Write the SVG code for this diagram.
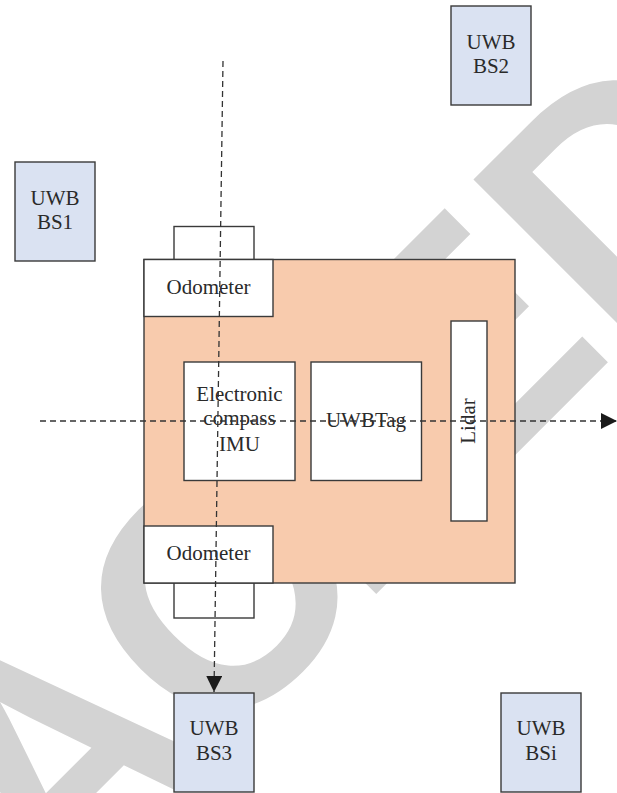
<svg xmlns="http://www.w3.org/2000/svg" width="617" height="793" viewBox="0 0 617 793">
<style>
.wm{font-family:"Liberation Sans",Arial,sans-serif;font-weight:bold;font-size:326px;fill:#d3d3d3}
.box{fill:#fff;stroke:#3a3a3a;stroke-width:1.4}
.bs{fill:#dae2f2;stroke:#3a3a3a;stroke-width:1.4}
.body{fill:#f8cbad;stroke:#3a3a3a;stroke-width:1.4}
.t{font-family:"Liberation Serif","Times New Roman",serif;font-size:21px;fill:#2a2a2a;text-anchor:middle}
.dash{fill:none;stroke:#333;stroke-width:1.3;stroke-dasharray:6,4}
</style>
<defs>
<marker id="arr" viewBox="0 0 16 16" refX="16" refY="8" markerWidth="16" markerHeight="16" markerUnits="userSpaceOnUse" orient="auto">
<path d="M0,0 L16,8 L0,16 z" fill="#1a1a1a"/>
</marker>
</defs>
<rect width="617" height="793" fill="#fff"/>
<g id="watermark" transform="rotate(-45)">
<text class="wm" y="686"><tspan x="-614">A</tspan><tspan x="-387">C</tspan><tspan x="-230">T</tspan><tspan x="-31">E</tspan><tspan x="186">D</tspan></text>
</g>
<g id="bs1"><rect class="bs" x="15" y="162" width="80" height="99"/><text class="t" x="55" y="205">UWB</text><text class="t" x="55" y="229">BS1</text></g>
<g id="bs2"><rect class="bs" x="451" y="6" width="80" height="99"/><text class="t" x="491" y="49">UWB</text><text class="t" x="491" y="73">BS2</text></g>
<g id="bs3"><rect class="bs" x="174" y="693" width="80" height="99"/><text class="t" x="214" y="735">UWB</text><text class="t" x="214" y="760">BS3</text></g>
<g id="bsi"><rect class="bs" x="501" y="693" width="80" height="99"/><text class="t" x="541" y="735">UWB</text><text class="t" x="541" y="760">BSi</text></g>
<g id="robot"><rect class="body" x="144" y="259.5" width="371" height="323.5"/></g>
<g id="wheel-top"><rect class="box" x="174" y="226.5" width="80" height="33"/></g>
<g id="wheel-bottom"><rect class="box" x="174" y="583" width="80" height="35"/></g>
<g id="odometer-top"><rect class="box" x="144" y="259.5" width="129" height="57"/><text class="t" x="208.5" y="294">Odometer</text></g>
<g id="odometer-bottom"><rect class="box" x="144" y="526" width="129" height="57"/><text class="t" x="208.5" y="560">Odometer</text></g>
<g id="compass"><rect class="box" x="184" y="362" width="111" height="118.5"/><text class="t" x="239.5" y="401">Electronic</text><text class="t" x="239.5" y="425">compass</text><text class="t" x="239.5" y="451">IMU</text></g>
<g id="uwbtag"><rect class="box" x="311" y="362" width="110.5" height="118.5"/><text class="t" x="366" y="427">UWBTag</text></g>
<g id="lidar"><rect class="box" x="451" y="321" width="36" height="200"/><text class="t" transform="translate(468,421) rotate(-90)" x="0" y="7">Lidar</text></g>
<g id="connectors">
<line class="dash" x1="40" y1="421" x2="617" y2="421" marker-end="url(#arr)"/>
<line class="dash" x1="223" y1="61" x2="214" y2="692" marker-end="url(#arr)"/>
</g>
</svg>
